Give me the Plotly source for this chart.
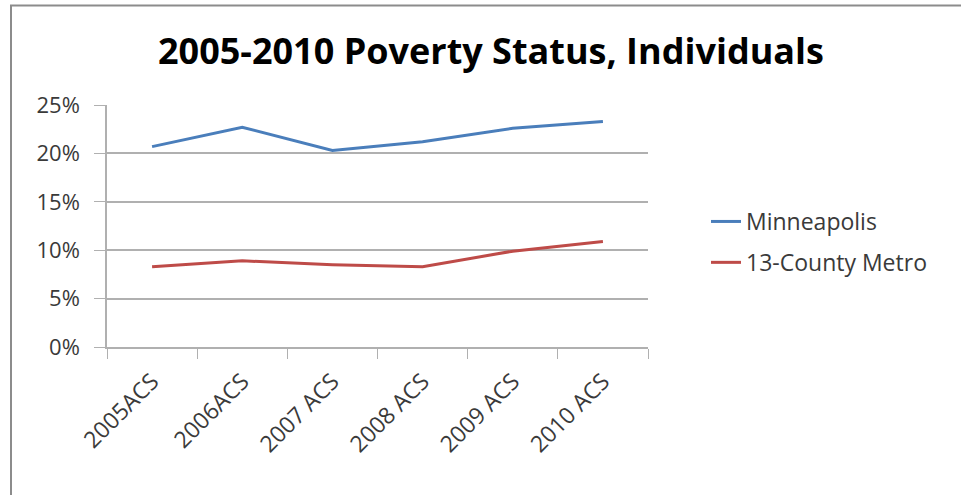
import plotly.graph_objects as go

categories = ["2005ACS", "2006ACS", "2007 ACS", "2008 ACS", "2009 ACS", "2010 ACS"]
minneapolis = [0.207, 0.227, 0.203, 0.212, 0.226, 0.233]
metro = [0.083, 0.089, 0.085, 0.083, 0.099, 0.109]
y_ticks = [0, 0.05, 0.10, 0.15, 0.20, 0.25]
y_tick_labels = ["0%", "5%", "10%", "15%", "20%", "25%"]

FONT = "Open Sans"
TXT = "#3a3a3a"
GRID = "#b0b0b0"

fig = go.Figure()
fig.add_trace(go.Scatter(x=categories, y=minneapolis, mode="lines", name="Minneapolis",
                         line=dict(color="#4a7ebb", width=3), legendgroup="a"))
fig.add_trace(go.Scatter(x=categories, y=metro, mode="lines", name="13-County Metro",
                         line=dict(color="#be4b48", width=3), legendgroup="b"))

W, H = 961, 495
L, R, T, B = 107, 313, 105, 148
pw, ph = W - L - R, H - T - B

def px_x(p):
    return (p - L) / pw

def px_y(p):
    return (H - B - p) / ph

fig.update_layout(
    width=W, height=H,
    margin=dict(l=L, r=R, t=T, b=B),
    paper_bgcolor="white", plot_bgcolor="white",
    font=dict(family=FONT, color=TXT, size=23),
    title=dict(text="<b>2005-2010 Poverty Status, Individuals</b>",
               font=dict(family=FONT, size=36, color="#000000"),
               x=491 / W, xanchor="center", xref="container",
               y=1 - 51 / H, yanchor="middle", yref="container"),
    showlegend=True,
    legend=dict(x=px_x(706), xanchor="left", y=px_y(242), yanchor="middle",
                font=dict(family=FONT, size=23, color=TXT),
                tracegroupgap=8, traceorder="grouped",
                bgcolor="rgba(0,0,0,0)"),
    xaxis=dict(type="category", showgrid=False, showline=True, linecolor=GRID, linewidth=1.5,
               ticks="outside", ticklen=10, tickcolor=GRID, tickson="boundaries",
               tickangle=-45, tickfont=dict(family=FONT, size=23, color=TXT),
               ticklabelstandoff=10,
               range=[-0.5, len(categories) - 0.5]),
    yaxis=dict(range=[0, 0.25], tickvals=y_ticks, ticktext=y_tick_labels,
               showgrid=True, gridcolor=GRID, gridwidth=1.5,
               showline=True, linecolor=GRID, linewidth=1.5,
               ticks="outside", ticklen=11, tickcolor=GRID, ticklabelstandoff=10,
               tickfont=dict(family=FONT, size=22, color=TXT), zeroline=False),
    shapes=[dict(type="rect", xref="paper", yref="paper",
                 x0=px_x(11), x1=px_x(W + 10), y0=px_y(H + 10), y1=px_y(5.5),
                 line=dict(color="#8c8c8c", width=2), layer="below")],
)

fig.write_html("out.html")
